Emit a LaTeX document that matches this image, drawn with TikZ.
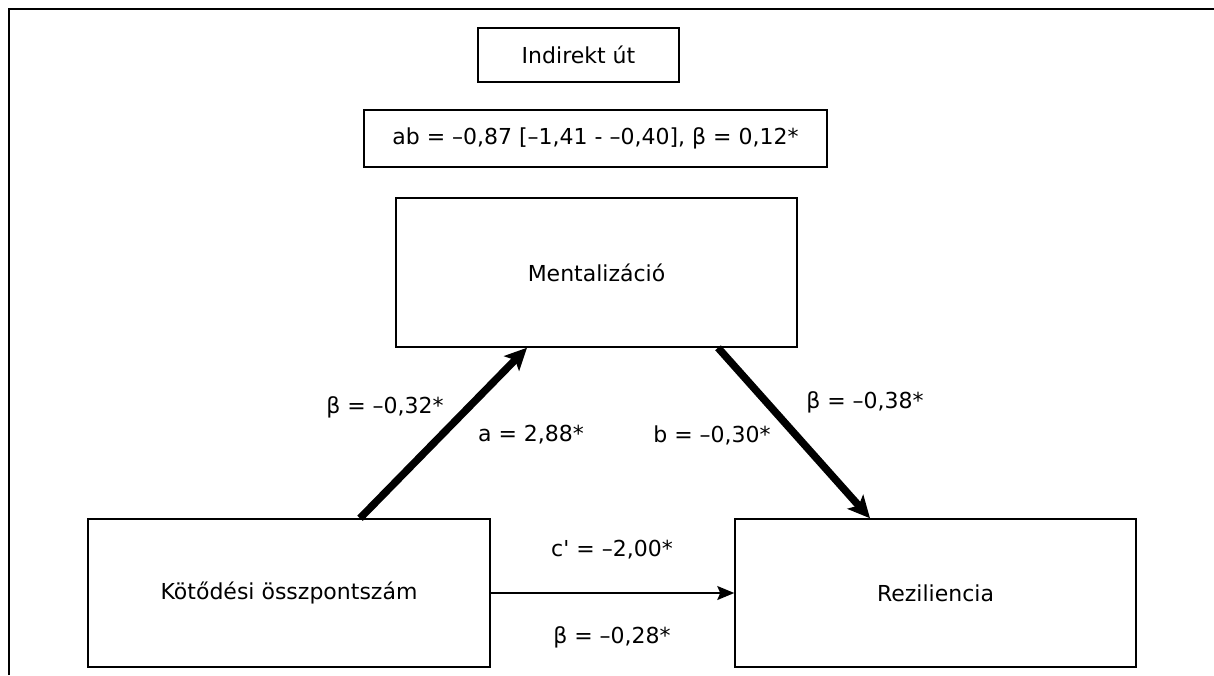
\documentclass[tikz,border=0pt]{standalone}
\usepackage{fontspec}
\setmainfont{DejaVu Sans}
\usetikzlibrary{arrows.meta,calc}

\begin{document}
\begin{tikzpicture}[x=1pt,y=-1pt,
  box/.style={rectangle,draw=black,line width=1.5pt,inner sep=0pt,font=\fontsize{22}{26}\selectfont},
  lbl/.style={draw=none,inner sep=0pt,font=\fontsize{22}{26}\selectfont}]
\useasboundingbox (0,0) rectangle (1214,675);
\draw[line width=1.5pt] (9,675) -- (9,9) -- (1214,9);

\node[box,minimum width=201pt,minimum height=54pt] (ind) at (578.5,55) {Indirekt út};
\node[box,minimum width=463pt,minimum height=57pt] (ab) at (595.5,138.5) {ab = –0,87 [–1,41 - –0,40], β = 0,12*};
\node[box,minimum width=401pt,minimum height=149pt] (ment) at (596.5,272.5) {Mentalizáció};
\node[box,minimum width=402pt,minimum height=148pt] (kot) at (289,593) {Kötődési összpontszám};
\node[box,minimum width=401pt,minimum height=148pt] (rez) at (935.5,593) {Reziliencia};

\draw[line width=7.5pt,-{Stealth[length=22pt,width=21pt,inset=5pt]}] ([xshift=71pt]kot.north) -- ([xshift=-69.5pt]ment.south);
\draw[line width=7.5pt,-{Stealth[length=22pt,width=21pt,inset=5pt]}] ([xshift=121.5pt]ment.south) -- ([xshift=-65.5pt]rez.north);
\draw[line width=1.5pt,-{Stealth[length=17pt,width=14pt,inset=3pt]}] (kot.east) -- (rez.west);

% path labels
\node[lbl] (beta a) at (385,407) {β = –0,32*};
\node[lbl] (a) at (531,435) {a = 2,88*};
\node[lbl] (b) at (712,435) {b = –0,30*};
\node[lbl] (beta b) at (865,402) {β = –0,38*};
\node[lbl] (c) at (612,550) {c\textquotesingle{} = –2,00*};
\node[lbl] (beta c) at (612,637) {β = –0,28*};

\end{tikzpicture}
\end{document}
